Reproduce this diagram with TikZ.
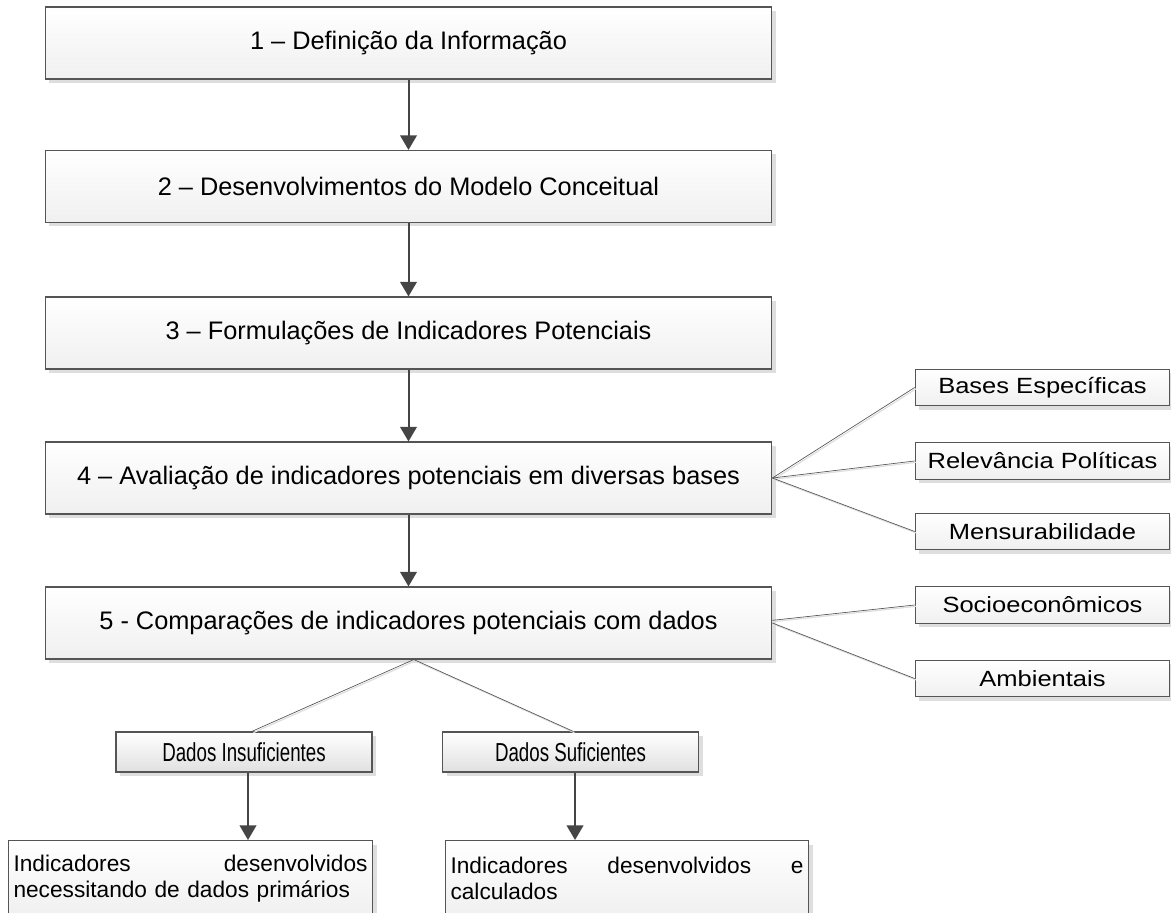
\documentclass[tikz,border=0pt]{standalone}
\usepackage{fontspec}
\setmainfont{Liberation Sans}
\newfontfamily\narrowfont[FakeStretch=0.72]{Liberation Sans}
\newfontfamily\wideFont[FakeStretch=1.16]{Liberation Sans}
\usetikzlibrary{arrows.meta,shadows,calc}
\definecolor{edgecol}{HTML}{555555}
\definecolor{arrcol}{HTML}{454545}
\definecolor{shadcol}{HTML}{DEDEDE}
\begin{document}
\begin{tikzpicture}[x=0.75pt,y=-0.75pt,
  boxbase/.style={draw=edgecol, line width=0.8pt, top color=white, bottom color=black!6,
    inner sep=0pt, drop shadow={shadow xshift=3pt, shadow yshift=-3pt, fill=shadcol, opacity=1}},
  mainbox/.style={boxbase, minimum width=545pt, minimum height=54pt, font=\fontsize{19}{23}\selectfont},
  sidebox/.style={boxbase, minimum width=191pt, minimum height=27.5pt, font=\wideFont\fontsize{16.5}{20}\selectfont},
  databox/.style={boxbase, bottom color=black!12, line width=1pt, minimum width=192pt, minimum height=30pt, font=\narrowfont\fontsize{19.5}{23}\selectfont},
  resbox/.style={boxbase, anchor=north west, minimum height=57pt, inner xsep=3.75pt, font=\fontsize{17}{19.5}\selectfont},
  arrowline/.style={draw=arrcol, line width=1.5pt, -{Triangle[length=11pt,width=12.5pt]}},
  subline/.style={draw=edgecol, line width=0.5pt, preaction={draw=shadcol, line width=0.9pt, transform canvas={shift={(1pt,-1pt)}}}}
]
\useasboundingbox (0,0) rectangle (1171,913);

% main steps
\node[mainbox] (b1) at (408.5,43) {1 -- Definição da Informação};
\node[mainbox] (b2) at (408.5,186.5) {2 -- Desenvolvimentos do Modelo Conceitual};
\node[mainbox] (b3) at (408.5,333) {3 -- Formulações de Indicadores Potenciais};
\node[mainbox] (b4) at (408.5,478) {4 -- Avaliação de indicadores potenciais em diversas bases};
\node[mainbox] (b5) at (408.5,623) {5 - Comparações de indicadores potenciais com dados};

% side boxes
\node[sidebox] (s1) at (1042.5,387.5) {Bases Específicas};
\node[sidebox] (s2) at (1042.5,461) {Relevância Políticas};
\node[sidebox] (s3) at (1042.5,531.5) {Mensurabilidade};
\node[sidebox] (s4) at (1042.5,605) {Socioeconômicos};
\node[sidebox] (s5) at (1042.5,678.5) {Ambientais};

% data boxes
\node[databox] (di) at (244,752) {Dados Insuficientes};
\node[databox] (ds) at (570.5,752) {Dados Suficientes};

% result boxes
\node[resbox, text width=265.5pt] (bl) at (8,840) {Indicadores\hfill desenvolvidos\\necessitando de dados primários};
\node[resbox, text width=264.75pt] (br) at (445,840) {Indicadores\hfill desenvolvidos\hfill e\\calculados};

% arrows
\draw[arrowline] (b1) -- (b2);
\draw[arrowline] (b2) -- (b3);
\draw[arrowline] (b3) -- (b4);
\draw[arrowline] (b4) -- (b5);
\draw[arrowline] ([xshift=3pt]di.south) -- ([xshift=3pt]di.south |- bl.north);
\draw[arrowline] ([xshift=3.4pt]ds.south) -- ([xshift=3.4pt]ds.south |- br.north);

% thin connectors
\draw[subline] (b4.east) -- (s1.west);
\draw[subline] (b4.east) -- (s2.west);
\draw[subline] (b4.east) -- (s3.west);
\draw[subline] ([yshift=2pt]b5.east) -- (s4.west);
\draw[subline] (b5.east) -- (s5.west);
\draw[subline] ([xshift=4pt]b5.south) -- ([xshift=6pt]di.north);
\draw[subline] ([xshift=4pt]b5.south) -- ([xshift=2pt]ds.north);
\end{tikzpicture}
\end{document}
